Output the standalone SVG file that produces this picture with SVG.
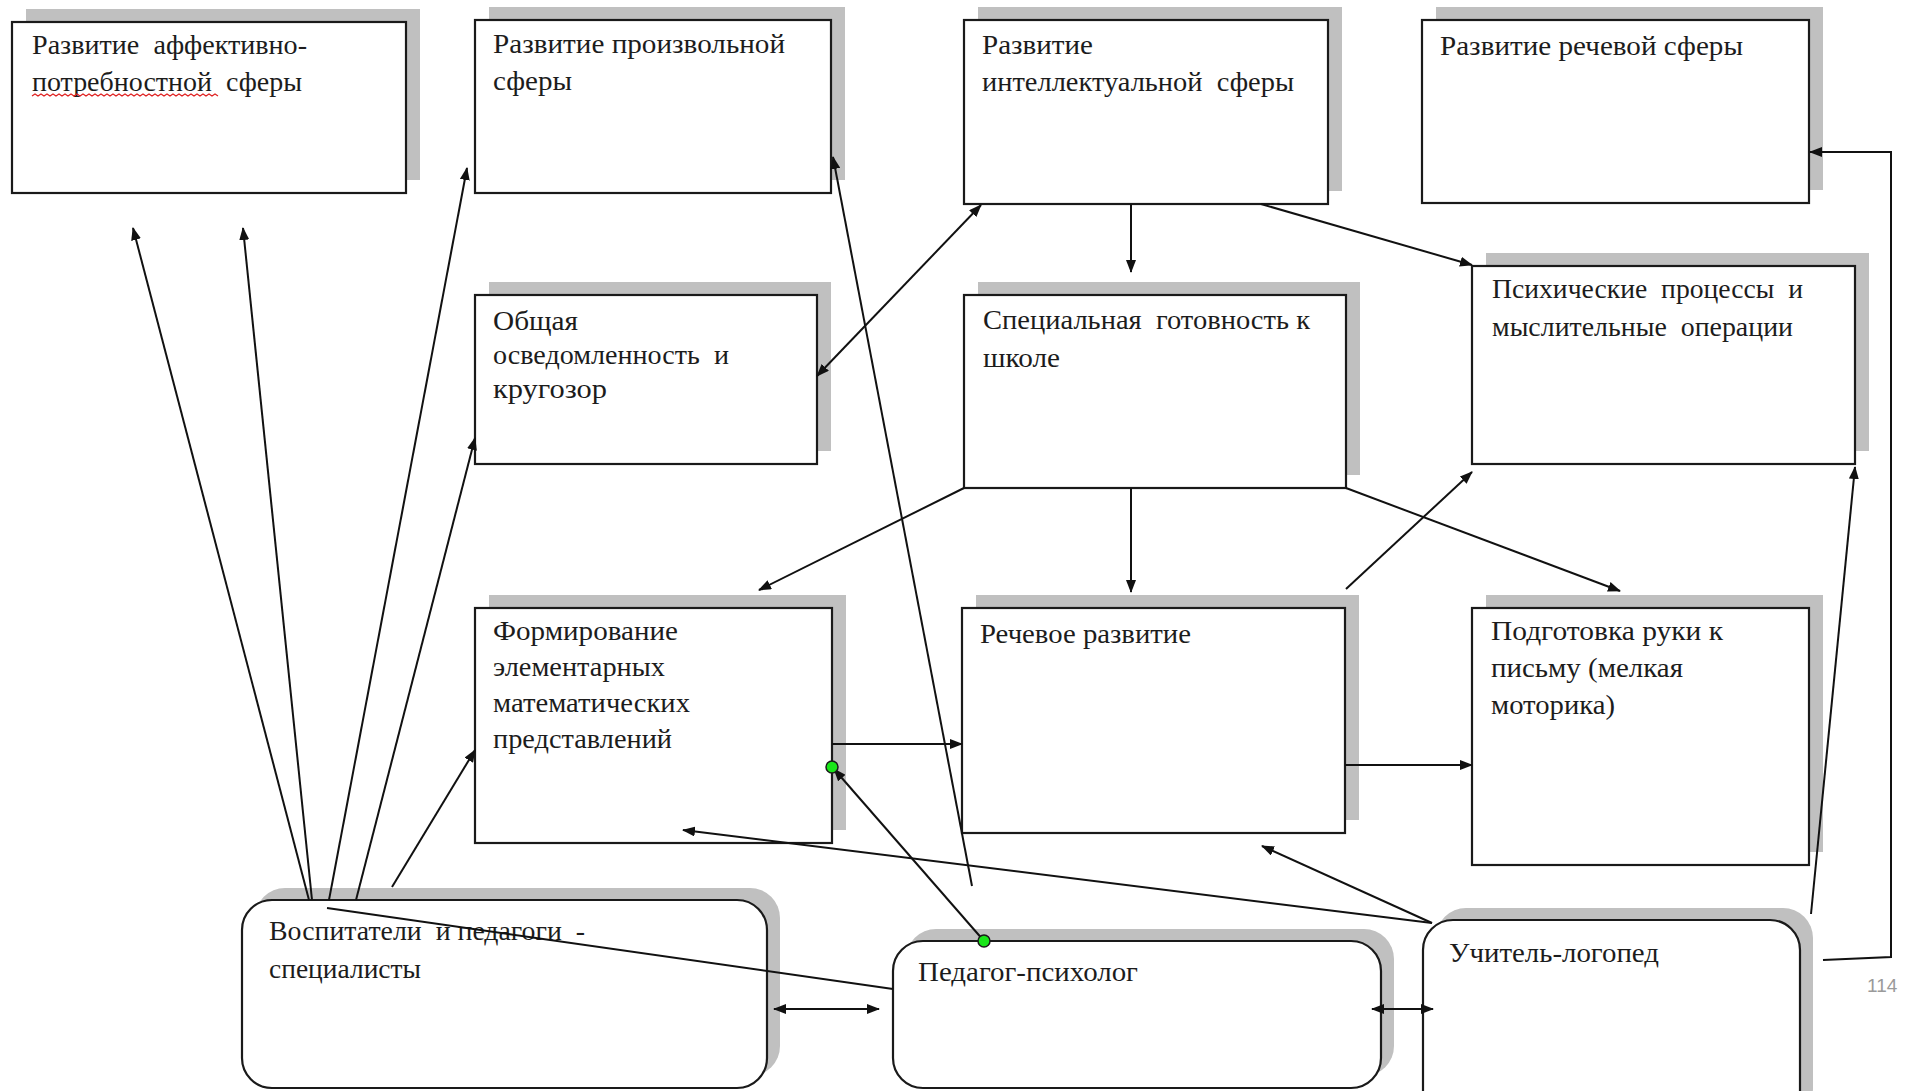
<svg xmlns="http://www.w3.org/2000/svg" width="1924" height="1091" viewBox="0 0 1924 1091">
<style>
  .shadow { fill: #c0c0c0; }
  .box { fill: #ffffff; stroke: #1a1a1a; stroke-width: 2.2; }
  .t { font-family: "Liberation Serif", "Times New Roman", serif; font-size: 27px; fill: #1c1c1c; white-space: pre; }
  .c { fill: none; stroke: #111; stroke-width: 2; }
  .dot { fill: #19e619; stroke: #1a1a1a; stroke-width: 1.5; }
  .pg { font-family: "Liberation Sans", Arial, sans-serif; font-size: 19px; fill: #9a9a9a; }
</style>
<defs>
  <marker id="ah" viewBox="0 0 13 10" refX="12" refY="5" markerWidth="13" markerHeight="10" markerUnits="userSpaceOnUse" orient="auto-start-reverse">
    <path d="M0,0 L13,5 L0,10 z" fill="#111"/>
  </marker>
</defs>
<rect width="1924" height="1091" fill="#ffffff"/>

<g id="n1">
  <rect class="shadow" x="26" y="9" width="394" height="171"/>
  <rect class="box" x="12" y="22" width="394" height="171"/>
  <text class="t" x="32" y="54" textLength="275" lengthAdjust="spacingAndGlyphs">Развитие  аффективно-</text>
  <text class="t" x="32" y="91" textLength="270" lengthAdjust="spacingAndGlyphs">потребностной  сферы</text>
  <path d="M32,96 l3,-2 l3,2 l3,-2 l3,2 l3,-2 l3,2 l3,-2 l3,2 l3,-2 l3,2 l3,-2 l3,2 l3,-2 l3,2 l3,-2 l3,2 l3,-2 l3,2 l3,-2 l3,2 l3,-2 l3,2 l3,-2 l3,2 l3,-2 l3,2 l3,-2 l3,2 l3,-2 l3,2 l3,-2 l3,2 l3,-2 l3,2 l3,-2 l3,2 l3,-2 l3,2 l3,-2 l3,2 l3,-2 l3,2 l3,-2 l3,2 l3,-2 l3,2 l3,-2 l3,2 l3,-2 l3,2 l3,-2 l3,2 l3,-2 l3,2 l3,-2 l3,2 l3,-2 l3,2 l3,-2 l3,2 l3,-2 l3,2" fill="none" stroke="#e02020" stroke-width="1.2"/>
</g>

<g id="n2">
  <rect class="shadow" x="489" y="7" width="356" height="173"/>
  <rect class="box" x="475" y="20" width="356" height="173"/>
  <text class="t" x="493" y="53" textLength="292" lengthAdjust="spacingAndGlyphs">Развитие произвольной</text>
  <text class="t" x="493" y="90" textLength="79" lengthAdjust="spacingAndGlyphs">сферы</text>
</g>

<g id="n3">
  <rect class="shadow" x="978" y="7" width="364" height="184"/>
  <rect class="box" x="964" y="20" width="364" height="184"/>
  <text class="t" x="982" y="54" textLength="111" lengthAdjust="spacingAndGlyphs">Развитие</text>
  <text class="t" x="982" y="91" textLength="312" lengthAdjust="spacingAndGlyphs">интеллектуальной  сферы</text>
</g>

<g id="n4">
  <rect class="shadow" x="1436" y="7" width="387" height="183"/>
  <rect class="box" x="1422" y="20" width="387" height="183"/>
  <text class="t" x="1440" y="55" textLength="303" lengthAdjust="spacingAndGlyphs">Развитие речевой сферы</text>
</g>

<g id="n5">
  <rect class="shadow" x="489" y="282" width="342" height="169"/>
  <rect class="box" x="475" y="295" width="342" height="169"/>
  <text class="t" x="493" y="330" textLength="85" lengthAdjust="spacingAndGlyphs">Общая</text>
  <text class="t" x="493" y="364" textLength="236" lengthAdjust="spacingAndGlyphs">осведомленность  и</text>
  <text class="t" x="493" y="398" textLength="114" lengthAdjust="spacingAndGlyphs">кругозор</text>
</g>

<g id="n6">
  <rect class="shadow" x="978" y="282" width="382" height="193"/>
  <rect class="box" x="964" y="295" width="382" height="193"/>
  <text class="t" x="983" y="329" textLength="327" lengthAdjust="spacingAndGlyphs">Специальная  готовность к</text>
  <text class="t" x="983" y="367" textLength="77" lengthAdjust="spacingAndGlyphs">школе</text>
</g>

<g id="n7">
  <rect class="shadow" x="1486" y="253" width="383" height="198"/>
  <rect class="box" x="1472" y="266" width="383" height="198"/>
  <text class="t" x="1492" y="298" textLength="311" lengthAdjust="spacingAndGlyphs">Психические  процессы  и</text>
  <text class="t" x="1492" y="336" textLength="301" lengthAdjust="spacingAndGlyphs">мыслительные  операции</text>
</g>

<g id="n8">
  <rect class="shadow" x="489" y="595" width="357" height="235"/>
  <rect class="box" x="475" y="608" width="357" height="235"/>
  <text class="t" x="493" y="640" textLength="185" lengthAdjust="spacingAndGlyphs">Формирование</text>
  <text class="t" x="493" y="676" textLength="172" lengthAdjust="spacingAndGlyphs">элементарных</text>
  <text class="t" x="493" y="712" textLength="197" lengthAdjust="spacingAndGlyphs">математических</text>
  <text class="t" x="493" y="748" textLength="179" lengthAdjust="spacingAndGlyphs">представлений</text>
</g>

<g id="n9">
  <rect class="shadow" x="976" y="595" width="383" height="225"/>
  <rect class="box" x="962" y="608" width="383" height="225"/>
  <text class="t" x="980" y="643" textLength="211" lengthAdjust="spacingAndGlyphs">Речевое развитие</text>
</g>

<g id="n10">
  <rect class="shadow" x="1486" y="595" width="337" height="257"/>
  <rect class="box" x="1472" y="608" width="337" height="257"/>
  <text class="t" x="1491" y="640" textLength="232" lengthAdjust="spacingAndGlyphs">Подготовка руки к</text>
  <text class="t" x="1491" y="677" textLength="192" lengthAdjust="spacingAndGlyphs">письму (мелкая</text>
  <text class="t" x="1491" y="714" textLength="124" lengthAdjust="spacingAndGlyphs">моторика)</text>
</g>

<g id="n11">
  <rect class="shadow" x="255" y="888" width="525" height="188" rx="30" ry="30"/>
  <rect class="box" x="242" y="900" width="525" height="188" rx="30" ry="30"/>
  <text class="t" x="269" y="940" textLength="316" lengthAdjust="spacingAndGlyphs">Воспитатели  и педагоги  -</text>
  <text class="t" x="269" y="978" textLength="152" lengthAdjust="spacingAndGlyphs">специалисты</text>
</g>

<g id="n12">
  <rect class="shadow" x="906" y="929" width="488" height="147" rx="30" ry="30"/>
  <rect class="box" x="893" y="941" width="488" height="147" rx="30" ry="30"/>
  <text class="t" x="918" y="981" textLength="220" lengthAdjust="spacingAndGlyphs">Педагог-психолог</text>
</g>

<g id="n13">
  <rect class="shadow" x="1436" y="908" width="377" height="210" rx="30" ry="30"/>
  <rect class="box" x="1423" y="920" width="377" height="210" rx="30" ry="30"/>
  <text class="t" x="1449" y="962" textLength="210" lengthAdjust="spacingAndGlyphs">Учитель-логопед</text>
</g>

<g id="connectors">
  <line class="c" x1="309" y1="900" x2="133" y2="228" marker-end="url(#ah)"/>
  <line class="c" x1="312" y1="900" x2="243" y2="228" marker-end="url(#ah)"/>
  <line class="c" x1="329" y1="900" x2="467" y2="168" marker-end="url(#ah)"/>
  <line class="c" x1="356" y1="900" x2="475" y2="438" marker-end="url(#ah)"/>
  <line class="c" x1="392" y1="887" x2="475" y2="750" marker-end="url(#ah)"/>
  <line class="c" x1="327" y1="908" x2="893" y2="989"/>
  <line class="c" x1="774" y1="1009" x2="879" y2="1009" marker-start="url(#ah)" marker-end="url(#ah)"/>
  <line class="c" x1="1372" y1="1009" x2="1433" y2="1009" marker-start="url(#ah)" marker-end="url(#ah)"/>
  <line class="c" x1="972" y1="886" x2="833" y2="157" marker-end="url(#ah)"/>
  <line class="c" x1="984" y1="941" x2="834" y2="769" marker-end="url(#ah)"/>
  <line class="c" x1="832" y1="744" x2="962" y2="744" marker-end="url(#ah)"/>
  <line class="c" x1="1432" y1="923" x2="683" y2="830" marker-end="url(#ah)"/>
  <line class="c" x1="1432" y1="923" x2="1262" y2="846" marker-end="url(#ah)"/>
  <line class="c" x1="964" y1="488" x2="759" y2="590" marker-end="url(#ah)"/>
  <line class="c" x1="1131" y1="488" x2="1131" y2="592" marker-end="url(#ah)"/>
  <line class="c" x1="1346" y1="488" x2="1620" y2="591" marker-end="url(#ah)"/>
  <line class="c" x1="1346" y1="589" x2="1472" y2="472" marker-end="url(#ah)"/>
  <line class="c" x1="1345" y1="765" x2="1472" y2="765" marker-end="url(#ah)"/>
  <line class="c" x1="1131" y1="204" x2="1131" y2="272" marker-end="url(#ah)"/>
  <line class="c" x1="1261" y1="204" x2="1472" y2="265" marker-end="url(#ah)"/>
  <line class="c" x1="817" y1="376" x2="981" y2="205" marker-start="url(#ah)" marker-end="url(#ah)"/>
  <polyline class="c" points="1823,960 1891,957 1891,152 1810,152" marker-end="url(#ah)"/>
  <line class="c" x1="1811" y1="914" x2="1855" y2="467" marker-end="url(#ah)"/>
  <circle class="dot" cx="832" cy="767" r="6"/>
  <circle class="dot" cx="984" cy="941" r="6"/>
</g>

<text class="pg" x="1867" y="992">114</text>
</svg>
